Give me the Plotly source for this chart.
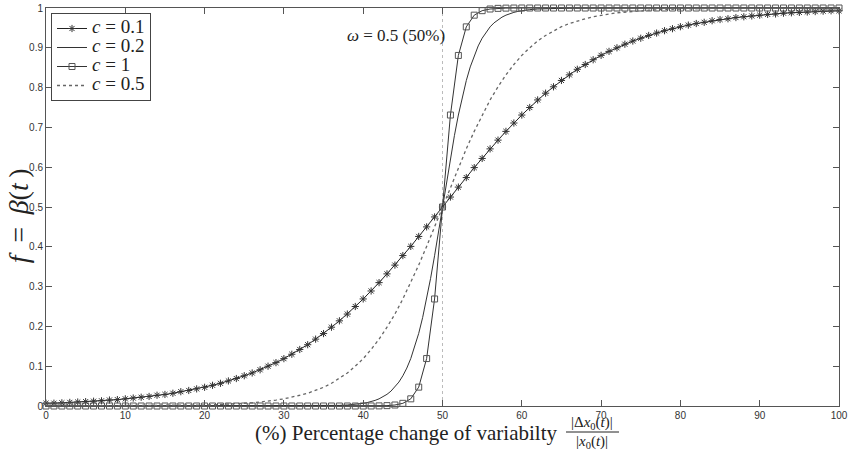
import plotly.graph_objects as go

# ---------------- data ----------------
X_INT = list(range(0, 101))

# c = 0.1  (star markers, one per integer percentage)
Y_C01 = [0.007, 0.007, 0.008, 0.009, 0.010, 0.011, 0.012, 0.013, 0.015, 0.016,
         0.018, 0.020, 0.022, 0.024, 0.027, 0.029, 0.032, 0.036, 0.039, 0.043,
         0.047, 0.052, 0.057, 0.063, 0.069, 0.076, 0.083, 0.091, 0.100, 0.109,
         0.119, 0.130, 0.142, 0.154, 0.168, 0.182, 0.198, 0.214, 0.231, 0.250,
         0.269, 0.289, 0.310, 0.332, 0.354, 0.378, 0.401, 0.426, 0.450, 0.475,
         0.500, 0.525, 0.550, 0.574, 0.599, 0.622, 0.646, 0.668, 0.690, 0.711,
         0.731, 0.750, 0.769, 0.786, 0.802, 0.818, 0.832, 0.846, 0.858, 0.870,
         0.881, 0.891, 0.900, 0.909, 0.917, 0.924, 0.931, 0.937, 0.943, 0.948,
         0.953, 0.957, 0.961, 0.964, 0.968, 0.971, 0.973, 0.976, 0.978, 0.980,
         0.982, 0.984, 0.985, 0.987, 0.988, 0.989, 0.990, 0.991, 0.992, 0.993,
         0.993]

# c = 1  (square markers, one per integer percentage)
Y_C1 = [0.000] * 41 + [0.0001, 0.0003, 0.0009, 0.0025, 0.0067, 0.0180, 0.0474,
                       0.1192, 0.2689, 0.5000, 0.7311, 0.8808, 0.9526, 0.9820,
                       0.9933, 0.9975, 0.9991, 0.9997, 0.9999] + [1.000] * 41

# solid line, legend "c = 0.2"
X_SOLID = [0, 20, 30, 34, 36, 37, 38, 39, 40, 40.5, 41, 41.5, 42, 42.5, 43, 43.5,
           44, 44.5, 45, 45.5, 46, 46.5, 47, 47.5, 48, 48.5, 49, 49.5, 50, 50.5,
           51, 51.5, 52, 52.5, 53, 53.5, 54, 54.5, 55, 55.5, 56, 56.5, 57, 57.5,
           58, 58.5, 59, 59.5, 60, 61, 62, 63, 64, 66, 70, 80, 100]
Y_SOLID = [0.0000, 0.0000, 0.00005, 0.0003, 0.0009, 0.0015, 0.0025, 0.0041, 0.0067,
           0.0086, 0.0110, 0.0141, 0.0180, 0.0230, 0.0293, 0.0373, 0.0474, 0.0601,
           0.0759, 0.0953, 0.1192, 0.1480, 0.1824, 0.2227, 0.2689, 0.3208, 0.3775,
           0.4378, 0.5000, 0.5622, 0.6225, 0.6792, 0.7311, 0.7773, 0.8176, 0.8520,
           0.8808, 0.9047, 0.9241, 0.9399, 0.9526, 0.9627, 0.9707, 0.9770, 0.9820,
           0.9859, 0.9890, 0.9914, 0.9933, 0.9959, 0.9975, 0.9985, 0.9991, 0.9997,
           1.0000, 1.0000, 1.0000]

# dotted line, legend "c = 0.5"
X_DOT = [0, 10, 15, 20, 21, 22, 23, 24, 25, 26, 27, 28, 29, 30, 31, 32, 33, 34, 35,
         36, 37, 38, 39, 40, 41, 42, 43, 44, 45, 46, 47, 48, 49, 50, 51, 52, 53, 54,
         55, 56, 57, 58, 59, 60, 61, 62, 63, 64, 65, 66, 67, 68, 69, 70, 71, 72, 73,
         74, 75, 76, 77, 78, 79, 80, 85, 90, 100]
Y_DOT = [0.0000, 0.0003, 0.0009, 0.0025, 0.0030, 0.0037, 0.0045, 0.0055, 0.0067,
         0.008, 0.010, 0.012, 0.015, 0.018, 0.022, 0.027, 0.032, 0.039, 0.047,
         0.057, 0.069, 0.083, 0.100, 0.119, 0.142, 0.168, 0.198, 0.231, 0.269,
         0.310, 0.354, 0.401, 0.450, 0.500, 0.550, 0.599, 0.646, 0.690, 0.731,
         0.769, 0.802, 0.832, 0.858, 0.881, 0.900, 0.917, 0.931, 0.943, 0.953,
         0.961, 0.968, 0.973, 0.978, 0.982, 0.985, 0.988, 0.990, 0.992, 0.993,
         0.9945, 0.9955, 0.9963, 0.9970, 0.9975, 0.9991, 0.9997, 1.0000]

OMEGA = 50          # omega = 0.5 -> 50 %
X_TICKS = list(range(0, 101, 10))
Y_TICKS = [0, 0.1, 0.2, 0.3, 0.4, 0.5, 0.6, 0.7, 0.8, 0.9, 1]
Y_TICK_TEXT = ["0", "0.1", "0.2", "0.3", "0.4", "0.5", "0.6", "0.7", "0.8", "0.9", "1"]
LEGEND_NAMES = ["<i>c</i> = 0.1", "<i>c</i> = 0.2", "<i>c</i> = 1", "<i>c</i> = 0.5"]

SERIF = "Liberation Serif, DejaVu Serif, serif"
SANS = "Liberation Sans, Arial, sans-serif"
INK = "#222222"


def big(txt):
    return "<span style='font-size:19px'>" + txt + "</span>"


fig = go.Figure()

fig.add_trace(go.Scatter(
    x=X_INT, y=Y_C01, mode="lines+markers", name=big(LEGEND_NAMES[0]),
    line=dict(color="#222222", width=1),
    marker=dict(symbol="asterisk-open", size=6, color="#333333",
                line=dict(color="#333333", width=1)),
    cliponaxis=False))

fig.add_trace(go.Scatter(
    x=X_SOLID, y=Y_SOLID, mode="lines", name=big(LEGEND_NAMES[1]),
    line=dict(color="#333333", width=1), cliponaxis=False))

fig.add_trace(go.Scatter(
    x=X_INT, y=Y_C1, mode="lines+markers", name=big(LEGEND_NAMES[2]),
    line=dict(color="#333333", width=1),
    marker=dict(symbol="square-open", size=6, color="#555555",
                line=dict(color="#555555", width=1)),
    cliponaxis=False))

fig.add_trace(go.Scatter(
    x=X_DOT, y=Y_DOT, mode="lines", name=big(LEGEND_NAMES[3]),
    line=dict(color="#666666", width=1.3, dash="dot"), cliponaxis=False))

# vertical dotted marker of omega
fig.add_shape(type="line", xref="x", yref="paper", x0=OMEGA, x1=OMEGA, y0=0, y1=1,
              line=dict(color="#bbbbbb", width=1, dash="dot"), layer="below")

fig.add_annotation(x=OMEGA, y=0.932, xref="x", yref="paper", xanchor="right",
                   yanchor="middle", xshift=4, showarrow=False,
                   text="<i>ω</i> = 0.5 (50%)",
                   font=dict(family=SERIF, size=17, color=INK))

# y axis title
fig.add_annotation(x=-0.0353, y=0.477, xref="paper", yref="paper", showarrow=False,
                   textangle=-90, xanchor="center", yanchor="middle",
                   text="<i>f</i>\u2009\u00a0=\u00a0\u2009<i>β</i>(<i>t</i>\u2009)",
                   font=dict(family=SERIF, size=28, color=INK))

# x axis title with fraction
fig.add_annotation(x=(253 - 46) / 793, y=-(433 - 406) / 398, xref="paper", yref="paper",
                   showarrow=False, xanchor="left", yanchor="middle",
                   text="(%) Percentage change of variabilty",
                   font=dict(family=SERIF, size=21, color=INK))
fig.add_annotation(x=(592 - 46) / 793, y=-(423 - 406) / 398, xref="paper", yref="paper",
                   showarrow=False, xanchor="center", yanchor="middle",
                   text="|Δ<i>x</i><sub>0</sub>(<i>t</i>)|",
                   font=dict(family=SERIF, size=15, color=INK))
fig.add_annotation(x=(592 - 46) / 793, y=-(442 - 406) / 398, xref="paper", yref="paper",
                   showarrow=False, xanchor="center", yanchor="middle",
                   text="|<i>x</i><sub>0</sub>(<i>t</i>)|",
                   font=dict(family=SERIF, size=15, color=INK))
fig.add_shape(type="line", xref="paper", yref="paper",
              x0=(566 - 46) / 793, x1=(619 - 46) / 793,
              y0=-(432 - 406) / 398, y1=-(432 - 406) / 398,
              line=dict(color=INK, width=1))

fig.update_layout(
    template="none",
    width=850, height=457,
    margin=dict(l=46, r=11, t=8, b=51, pad=0),
    paper_bgcolor="white", plot_bgcolor="white",
    showlegend=True,
    legend=dict(x=5 / 793, y=1 - 5 / 398, xanchor="left", yanchor="top",
                bgcolor="white", bordercolor="#444444", borderwidth=1,
                font=dict(family=SERIF, size=11, color=INK),
                itemwidth=30, tracegroupgap=0),
    font=dict(family=SANS, size=10, color="#333333"),
)

fig.update_xaxes(range=[0, 100], tickmode="array", tickvals=X_TICKS,
                 ticks="inside", ticklen=6, tickcolor="#555555",
                 showline=True, linecolor="#555555", linewidth=1, mirror="ticks",
                 showgrid=False, zeroline=False, automargin=False,
                 tickfont=dict(family=SANS, size=10, color="#333333"))
fig.update_yaxes(range=[0, 1], tickmode="array", tickvals=Y_TICKS, ticktext=Y_TICK_TEXT,
                 ticks="inside", ticklen=6, tickcolor="#555555",
                 showline=True, linecolor="#555555", linewidth=1, mirror="ticks",
                 showgrid=False, zeroline=False, automargin=False,
                 tickfont=dict(family=SANS, size=10, color="#333333"))

fig.write_html("out.html",
               config={"displayModeBar": False},
               post_script="document.body.style.margin='0';"
                           "document.body.style.overflow='hidden';")
